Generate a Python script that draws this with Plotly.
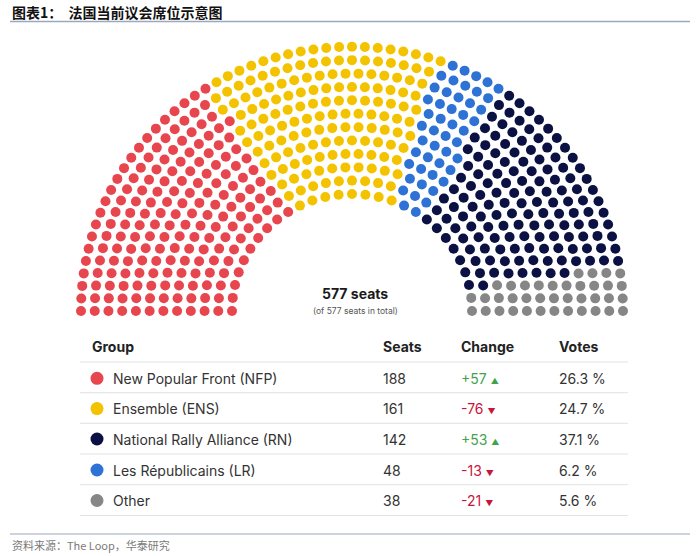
import numpy as np
import plotly.graph_objects as go

# ---------------- data ----------------
groups = ["New Popular Front (NFP)", "Ensemble (ENS)", "National Rally Alliance (RN)",
          "Les Républicains (LR)", "Other"]
seats = [188, 161, 142, 48, 38]
changes = [57, -76, 53, -13, -21]
votes = [26.3, 24.7, 37.1, 6.2, 5.6]
colors = ["#E8464E", "#F4C300", "#0B1142", "#2D72D4", "#868686"]
arc_order = [0, 1, 3, 2, 4]  # left -> right in the hemicycle
headers = ["Group", "Seats", "Change", "Votes"]
title_text = "图表1：  法国当前议会席位示意图"
source_text = "资料来源：The Loop，华泰研究"

# ---------------- layout helpers ----------------
W, H = 700, 556
FONT = "Inter, Roboto, Arial, sans-serif"
CJK = "Noto Sans CJK SC"
total = sum(seats)

n_rows = 12
cx, cy = 352, 311
r_in, r_out = 120, 271
ky = 0.975

radii = np.linspace(r_in, r_out, n_rows)
raw = total * radii / radii.sum()
per_row = np.floor(raw).astype(int)
rem = total - per_row.sum()
order = np.argsort(-(raw - per_row))
per_row[order[:rem]] += 1

pts = []
for r, n in zip(radii, per_row):
    for j in range(n):
        th = np.pi * (1 - j / (n - 1))
        pts.append((th, r))
pts.sort(key=lambda p: (-round(p[0], 9), p[1]))

fig = go.Figure()
idx = 0
for p in arc_order:
    chunk = pts[idx: idx + seats[p]]
    idx += seats[p]
    xs = [cx + r * np.cos(t) for t, r in chunk]
    ys = [cy - r * np.sin(t) * ky for t, r in chunk]
    fig.add_trace(go.Scatter(x=xs, y=ys, mode="markers",
                             marker=dict(size=10, color=colors[p], line=dict(width=0)),
                             hoverinfo="skip", showlegend=False))

# centre label
ann = []
ann.append(dict(x=cx + 3, y=293, text="<b>%d seats</b>" % total, showarrow=False,
                font=dict(family=FONT, size=14, color="#1a1a1a"), xanchor="center", yanchor="middle"))
ann.append(dict(x=cx + 3, y=310.5, text="(of %d seats in total)" % total, showarrow=False,
                font=dict(family=FONT, size=8.5, color="#555"), xanchor="center", yanchor="middle"))

# table
col_x = [90, 381, 459, 557]
header_y = 346
row_y = [378.3, 408.6, 439, 470, 500.5]
line_y = [362, 392.7, 423.3, 454, 484.7, 515.5]

for hx, h in zip(col_x, headers):
    ann.append(dict(x=hx, y=header_y, text="<b>%s</b>" % h, showarrow=False,
                    font=dict(family=FONT, size=14, color="#222"), xanchor="left", yanchor="middle"))

fig.add_trace(go.Scatter(x=[97] * len(groups), y=row_y, mode="markers",
                         marker=dict(size=13, color=colors, line=dict(width=0)),
                         hoverinfo="skip", showlegend=False))

for i in range(len(groups)):
    y = row_y[i]
    ann.append(dict(x=111, y=y, text=groups[i], showarrow=False,
                    font=dict(family=FONT, size=14, color="#333"), xanchor="left", yanchor="middle"))
    ann.append(dict(x=col_x[1], y=y, text=str(seats[i]), showarrow=False,
                    font=dict(family=FONT, size=14, color="#333"), xanchor="left", yanchor="middle"))
    c = changes[i]
    if c >= 0:
        txt = "+%d <span style='font-size:8px'>▲</span>" % c
        col = "#3FA34D"
    else:
        txt = "%d <span style='font-size:8px'>▼</span>" % c
        col = "#C8153A"
    ann.append(dict(x=col_x[2], y=y, text=txt, showarrow=False,
                    font=dict(family=FONT, size=14, color=col), xanchor="left", yanchor="middle"))
    ann.append(dict(x=col_x[3], y=y, text="%.1f %%" % votes[i], showarrow=False,
                    font=dict(family=FONT, size=14, color="#333"), xanchor="left", yanchor="middle"))

shapes = []
for ly in line_y:
    shapes.append(dict(type="line", x0=80, x1=628, y0=ly, y1=ly, xref="x", yref="y",
                       line=dict(color="#E2E2E2", width=1)))

# title & source
ann.append(dict(x=10, y=12, text="<b>%s</b>" % title_text, showarrow=False,
                font=dict(family=CJK, size=14, color="#111"), xanchor="left", yanchor="middle"))
shapes.append(dict(type="line", x0=10, x1=690, y0=21.5, y1=21.5, xref="x", yref="y",
                   line=dict(color="#9AA8BC", width=1.5)))
shapes.append(dict(type="line", x0=10, x1=690, y0=534, y1=534, xref="x", yref="y",
                   line=dict(color="#9AA8BC", width=1.2)))
ann.append(dict(x=10, y=545, text=source_text, showarrow=False,
                font=dict(family=CJK, size=11, color="#7a7a7a"), xanchor="left", yanchor="middle"))

fig.update_layout(
    width=W, height=H, autosize=False,
    margin=dict(l=0, r=0, t=0, b=0),
    paper_bgcolor="white", plot_bgcolor="white",
    xaxis=dict(range=[0, W], visible=False, fixedrange=True),
    yaxis=dict(range=[H, 0], visible=False, fixedrange=True),
    annotations=ann, shapes=shapes,
)

fig.write_html("out.html")
